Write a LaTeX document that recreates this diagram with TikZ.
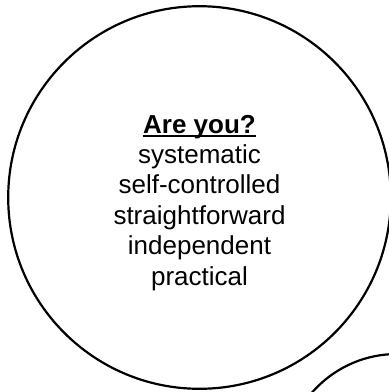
\documentclass[tikz,border=0pt]{standalone}
\usepackage{fontspec}
\setmainfont{Liberation Sans}
\newcommand\ulword[1]{\setbox0\hbox{#1}\rlap{\rule[-4pt]{\wd0}{1.8pt}}\box0}
\begin{document}
\begin{tikzpicture}[x=1pt,y=-1pt,
  ring/.style={line width=2.2pt, draw=black},
  txt/.style={anchor=base, inner sep=0pt, font=\fontsize{26}{30}\selectfont}]
\useasboundingbox (0,0) rectangle (389,392);
\clip (0,0) rectangle (389,392);
\draw[ring] (199.5,197.5) circle[radius=191.3pt];
\draw[ring] (397,467) circle[radius=113pt];
\node[txt, font=\fontsize{26}{30}\selectfont\bfseries] (title) at (199.5,133) {\ulword{Are you?}};
\node[txt] (l1) at (199.5,163.4) {systematic};
\node[txt] (l2) at (199.5,193.8) {self-controlled};
\node[txt] (l3) at (199.5,224.2) {straightforward};
\node[txt] (l4) at (199.5,254.6) {independent};
\node[txt] (l5) at (199.5,285) {practical};
\end{tikzpicture}
\end{document}
